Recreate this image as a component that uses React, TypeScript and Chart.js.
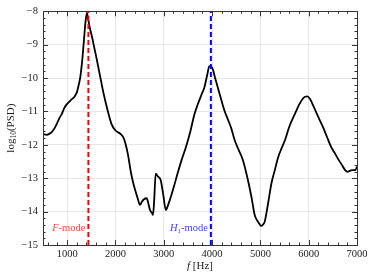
import React, { useEffect, useRef } from "react";
import { Chart, registerables } from "chart.js";

Chart.register(...registerables);

const freqs = [
  500, 580, 640, 680, 740, 785, 840, 890, 940, 994, 1050, 1098, 1140, 1167, 1202, 1240, 1271, 1310, 1340, 1381,
  1410, 1430, 1470, 1520, 1548, 1600, 1687, 1760, 1840, 1917, 2000, 2104, 2170, 2208, 2260, 2312, 2360, 2417,
  2470, 2506, 2550, 2590, 2646, 2680, 2715, 2760, 2777, 2800, 2833, 2880, 2937, 2990, 3042, 3090, 3146, 3210,
  3285, 3370, 3458, 3550, 3632, 3700, 3780, 3840, 3900, 3944, 3970, 4014, 4060, 4118, 4190, 4257, 4330, 4396,
  4465, 4550, 4639, 4743, 4820, 4882, 4950, 5021, 5060, 5090, 5160, 5229, 5300, 5368, 5440, 5506, 5600, 5715,
  5820, 5923, 5970, 6027, 6110, 6201, 6290, 6375, 6460, 6548, 6620, 6687, 6750, 6806, 6850, 6896, 6965, 7000,
];
const logPsd = [
  -11.68, -11.7, -11.66, -11.62, -11.5, -11.37, -11.2, -11.07, -10.9, -10.78, -10.7, -10.63, -10.58, -10.52,
  -10.42, -10.2, -9.98, -9.5, -9.0, -8.3, -8.05, -8.2, -8.5, -8.8, -9.0, -9.35, -9.98, -10.5, -10.98, -11.37,
  -11.57, -11.67, -11.8, -11.97, -12.3, -12.76, -13.1, -13.4, -13.65, -13.8, -13.7, -13.63, -13.6, -13.75,
  -13.95, -14.05, -14.1, -13.7, -12.86, -12.95, -13.06, -13.5, -13.95, -13.8, -13.56, -13.25, -12.86, -12.45,
  -12.07, -11.6, -11.1, -10.8, -10.5, -10.28, -9.9, -9.64, -9.65, -9.73, -9.98, -10.28, -10.65, -10.98, -11.25,
  -11.5, -11.85, -12.15, -12.46, -13.06, -13.6, -14.1, -14.3, -14.43, -14.38, -14.3, -13.75, -13.15, -12.75,
  -12.37, -12.1, -11.87, -11.45, -11.07, -10.75, -10.56, -10.55, -10.63, -10.88, -11.17, -11.45, -11.75, -12.05,
  -12.27, -12.45, -12.6, -12.75, -12.81, -12.78, -12.76, -12.76, -12.65,
];

const fModeFreq = 1440;
const h1ModeFreq = 3975;

const xTickValues = [1000, 2000, 3000, 4000, 5000, 6000, 7000];
const yTickValues = [-15, -14, -13, -12, -11, -10, -9, -8];
const xMin = 500;
const xMax = 7000;
const yMin = -15;
const yMax = -8;
const xMinorStep = 200;
const yMinorStep = 0.2;

const SERIF = "'Liberation Serif', 'DejaVu Serif', serif";

const decorPlugin = {
  id: "decor",
  afterDraw(chart: any) {
    const ctx = chart.ctx as CanvasRenderingContext2D;
    const a = chart.chartArea;
    const xs = chart.scales.x;
    const ys = chart.scales.y;
    ctx.save();
    ctx.strokeStyle = "#333";
    ctx.lineWidth = 1;
    const drawX = (v: number, len: number) => {
      const px = Math.round(xs.getPixelForValue(v)) + 0.5;
      ctx.beginPath();
      ctx.moveTo(px, a.bottom);
      ctx.lineTo(px, a.bottom - len);
      ctx.moveTo(px, a.top);
      ctx.lineTo(px, a.top + len);
      ctx.stroke();
    };
    const drawY = (v: number, len: number) => {
      const py = Math.round(ys.getPixelForValue(v)) + 0.5;
      ctx.beginPath();
      ctx.moveTo(a.left, py);
      ctx.lineTo(a.left + len, py);
      ctx.moveTo(a.right, py);
      ctx.lineTo(a.right - len, py);
      ctx.stroke();
    };
    for (let i = 0; ; i++) {
      const v = 600 + i * xMinorStep;
      if (v >= xMax) break;
      if (v % 1000 !== 0) drawX(v, 2.5);
    }
    xTickValues.forEach((v) => drawX(v, 5));
    for (let i = 1; ; i++) {
      const v = yMin + i * yMinorStep;
      if (v >= yMax - 1e-6) break;
      if (Math.abs(v - Math.round(v)) > 1e-6) drawY(v, 2.5);
    }
    yTickValues.forEach((v) => drawY(v, 5));
    ctx.strokeStyle = "#333";
    ctx.strokeRect(Math.round(a.left) + 0.5, Math.round(a.top) + 0.5, Math.round(a.right - a.left), Math.round(a.bottom - a.top));

    const cx = (a.left + a.right) / 2;
    ctx.fillStyle = "#222";
    ctx.textBaseline = "middle";
    ctx.font = `italic 11px ${SERIF}`;
    const fW = ctx.measureText("f").width;
    ctx.font = `11px ${SERIF}`;
    const restW = ctx.measureText(" [Hz]").width;
    const sx = cx - (fW + restW) / 2;
    ctx.font = `italic 11px ${SERIF}`;
    ctx.textAlign = "left";
    ctx.fillText("f", sx, 266);
    ctx.font = `11px ${SERIF}`;
    ctx.fillText(" [Hz]", sx + fW, 266);

    ctx.save();
    ctx.translate(11, (a.top + a.bottom) / 2);
    ctx.rotate(-Math.PI / 2);
    ctx.font = `11px ${SERIF}`;
    const w1 = ctx.measureText("log").width;
    const w3 = ctx.measureText("(PSD)").width;
    ctx.font = `7.5px ${SERIF}`;
    const w2 = ctx.measureText("10").width;
    const ty = -(w1 + w2 + w3) / 2;
    ctx.font = `11px ${SERIF}`;
    ctx.fillText("log", ty, 0);
    ctx.font = `7.5px ${SERIF}`;
    ctx.fillText("10", ty + w1, 3);
    ctx.font = `11px ${SERIF}`;
    ctx.fillText("(PSD)", ty + w1 + w2, 0);
    ctx.restore();

    const ly = 228;
    const drawLabel = (main: string, sub: string, rest: string, color: string, xr: number) => {
      ctx.fillStyle = color;
      ctx.font = `italic 10.5px ${SERIF}`;
      const mw = ctx.measureText(main).width;
      ctx.font = `7px ${SERIF}`;
      const sw = sub ? ctx.measureText(sub).width : 0;
      ctx.font = `10.5px ${SERIF}`;
      const rw = ctx.measureText(rest).width;
      const x0 = xr - (mw + sw + rw);
      ctx.textAlign = "left";
      ctx.font = `italic 10.5px ${SERIF}`;
      ctx.fillText(main, x0, ly);
      if (sub) {
        ctx.font = `7px ${SERIF}`;
        ctx.fillText(sub, x0 + mw, ly + 3);
      }
      ctx.font = `10.5px ${SERIF}`;
      ctx.fillText(rest, x0 + mw + sw, ly);
    };
    drawLabel("F", "", "-mode", "#ff4040", xs.getPixelForValue(fModeFreq) - 3);
    drawLabel("H", "1", "-mode", "#4040ff", xs.getPixelForValue(h1ModeFreq) - 3);
    ctx.restore();
  },
};

export default function App() {
  const ref = useRef<HTMLCanvasElement | null>(null);
  useEffect(() => {
    if (!ref.current) return;
    const chart = new Chart(ref.current, {
      type: "line",
      data: {
        datasets: [
          {
            data: freqs.map((f, i) => ({ x: f, y: logPsd[i] })),
            borderColor: "#000",
            borderWidth: 1.8,
            pointRadius: 0,
            cubicInterpolationMode: "monotone",
            fill: false,
            order: 2,
          },
          {
            data: [
              { x: fModeFreq, y: yMin },
              { x: fModeFreq, y: yMax },
            ],
            borderColor: "#ff0000",
            borderWidth: 2,
            borderDash: [5, 3],
            pointRadius: 0,
            order: 1,
          },
          {
            data: [
              { x: h1ModeFreq, y: yMin },
              { x: h1ModeFreq, y: yMax },
            ],
            borderColor: "#0000ff",
            borderWidth: 2,
            borderDash: [5, 3],
            pointRadius: 0,
            order: 1,
          },
        ],
      },
      options: {
        animation: false,
        responsive: false,
        devicePixelRatio: 1,
        layout: { padding: { top: 10, right: 17, left: 0, bottom: 0 } },
        plugins: { legend: { display: false }, tooltip: { enabled: false } },
        scales: {
          x: {
            type: "linear",
            min: xMin,
            max: xMax,
            afterBuildTicks: (s: any) => {
              s.ticks = xTickValues.map((v) => ({ value: v }));
            },
            afterFit: (s: any) => {
              s.height = 33;
            },
            grid: { color: "#e6e6e6", drawTicks: false, lineWidth: 1 },
            border: { display: false },
            ticks: {
              padding: 3,
              color: "#222",
              font: { family: SERIF, size: 10.5 },
              maxRotation: 0,
              autoSkip: false,
              callback: (v: any) => String(v),
            },
          },
          y: {
            type: "linear",
            min: yMin,
            max: yMax,
            afterBuildTicks: (s: any) => {
              s.ticks = yTickValues.map((v) => ({ value: v }));
            },
            afterFit: (s: any) => {
              s.width = 43;
            },
            grid: { color: "#e6e6e6", drawTicks: false, lineWidth: 1 },
            border: { display: false },
            ticks: {
              padding: 5,
              color: "#222",
              font: { family: SERIF, size: 10.5 },
              autoSkip: false,
              callback: (v: any) => (v < 0 ? "\u2212" + Math.abs(v) : String(v)),
            },
          },
        },
      },
      plugins: [decorPlugin],
    } as any);
    return () => chart.destroy();
  }, []);
  return (
    <div style={{ position: "fixed", left: 0, top: 0, width: 374, height: 278, background: "#fff" }}>
      <canvas ref={ref} width={374} height={278} style={{ width: 374, height: 278, display: "block" }} />
    </div>
  );
}
